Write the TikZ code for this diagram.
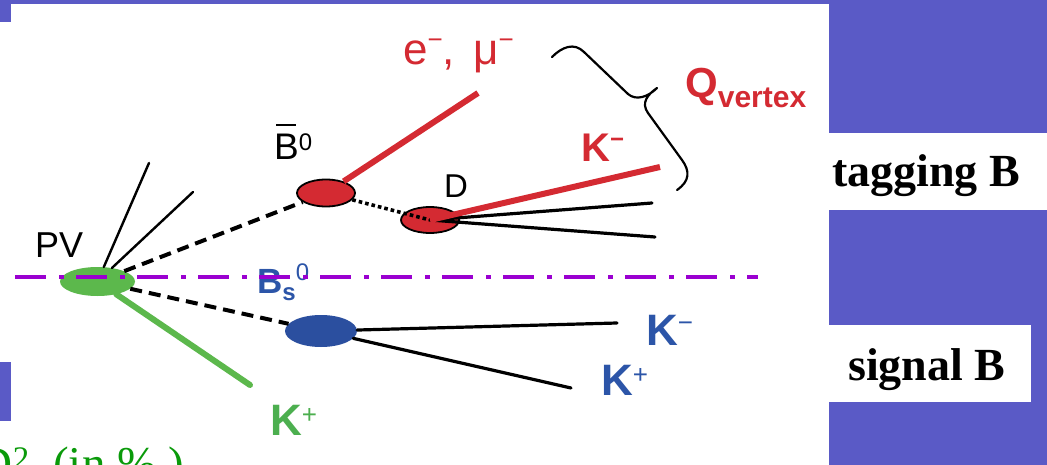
\documentclass[tikz,border=0pt]{standalone}
\usepackage{fontspec}
\setmainfont{Liberation Serif}
\setsansfont{Liberation Sans}
\usetikzlibrary{positioning,shapes,calc}

\definecolor{slideblue}{HTML}{5A5AC6}
\definecolor{tagred}{HTML}{D42A32}
\definecolor{pvgreen}{HTML}{5CB84C}
\definecolor{kgreen}{HTML}{4CAF4F}
\definecolor{bsblue}{HTML}{2B4F9F}
\definecolor{kblue}{HTML}{2C55A8}
\definecolor{cutpurple}{HTML}{9A00D0}
\definecolor{txtgreen}{HTML}{0A9A0A}

\begin{document}
\begin{tikzpicture}[x=1pt,y=-1pt,
    vtx/.style={ellipse,inner sep=0pt},
    lbl/.style={inner sep=0pt,anchor=base west,font=\sffamily},
    trk/.style={line width=3.2pt,line cap=round},
    fattrk/.style={line width=6pt,line cap=round},
    flight/.style={line width=4pt,dash pattern=on 12pt off 7pt}]
      \useasboundingbox (0,0) rectangle (1047,465);
      \clip (0,0) rectangle (1047,465);
      %
      % slide background and white panels
      \fill[slideblue] (0,0) rectangle (1047,465);
      \fill[white] (11,4) rectangle (829,465);
      \fill[white] (0,22) rectangle (11,362);
      \fill[white] (0,421) rectangle (11,465);
      \fill[white] (812,133) rectangle (1047,210);
      \fill[white] (829,325) rectangle (1031,402);
      %
      % vertices
      \node[vtx,fill=pvgreen,minimum width=75pt,minimum height=29pt] (pv) at (97.5,281.5) {};
      \node[vtx,fill=tagred,draw=black,line width=1.8pt,minimum width=58pt,minimum height=27pt] (bbar) at (326,193) {};
      \node[vtx,fill=tagred,draw=black,line width=1.8pt,minimum width=58pt,minimum height=26pt] (dvtx) at (430,220) {};
      \node[vtx,fill=bsblue,minimum width=72pt,minimum height=32pt] (bs) at (321,331) {};
      %
      \coordinate (pvtrk1) at (149,163);
      \coordinate (pvtrk2) at (193,192);
      \coordinate (emuend) at (478,93);
      \coordinate (kmtag) at (660,167);
      \coordinate (dtrk1) at (652,203);
      \coordinate (dtrk2) at (655,237);
      \coordinate (kmsig) at (617,323);
      \coordinate (kpsig) at (571,388);
      \coordinate (kpgreen) at (250,385);
      \coordinate (cut1) at (15,277);
      \coordinate (cut2) at (758,277);
      %
      % tracks
      \draw[trk,line width=2.4pt] (pv) -- (pvtrk1);
      \draw[trk,line width=2.4pt] (pv) -- (pvtrk2);
      \draw[fattrk,pvgreen] (pv) -- (kpgreen);
      \draw[flight] (pv) -- (bbar);
      \draw[flight] (pv) -- (bs);
      \draw[fattrk,tagred,line cap=butt] (bbar) -- (emuend);
      \draw[line width=3.6pt,dash pattern=on 3.6pt off 3pt] (bbar) -- (dvtx.center);
      \draw[trk] (dvtx.center) -- (dtrk1);
      \draw[trk] (dvtx.center) -- (dtrk2);
      \draw[fattrk,tagred,line cap=butt] (dvtx.center) -- (kmtag);
      \draw[trk] (bs) -- (kmsig);
      \draw[trk] (bs) -- (kpsig);
      %
      % brace round the tagging tracks
      \draw[line width=2.2pt,line cap=round,line join=round]
        (552,57) .. controls (562,47) and (574,42) .. (584,52) -- (628,94)
        .. controls (636,101) and (648,97) .. (657,88)
        .. controls (647,95) and (641,103) .. (648,113) -- (682,160)
        .. controls (690,171) and (690,181) .. (677,190);
      %
      % labels
      \node[lbl,font=\sffamily\fontsize{36}{36}\selectfont] (pvlbl) at (35,258) {PV};
      \node[lbl,font=\sffamily\fontsize{37}{37}\selectfont] (bbarlbl) at (274,160)
        {\rlap{\hspace{2pt}\raisebox{34pt}{\rule{20pt}{2.2pt}}}B\raisebox{9pt}{\fontsize{24}{24}\selectfont 0}};
      \node[lbl,font=\sffamily\fontsize{33}{33}\selectfont] (dlbl) at (444,198) {D};
      \node[lbl,text=tagred,font=\sffamily\fontsize{44}{44}\selectfont] (emulbl) at (403,65)
        {e\raisebox{16pt}{\fontsize{26}{26}\selectfont −}, \hspace{6pt}μ\raisebox{16pt}{\fontsize{26}{26}\selectfont −}};
      \node[lbl,text=tagred,font=\sffamily\bfseries\fontsize{40}{40}\selectfont] (kmtaglbl) at (581,162)
        {K\raisebox{14pt}{\fontsize{24}{24}\selectfont −}};
      \node[lbl,text=tagred,font=\sffamily\bfseries\fontsize{42}{42}\selectfont] (qlbl) at (685,98)
        {Q\raisebox{-10pt}{\fontsize{30}{30}\selectfont vertex}};
      \node[lbl,text=kblue,font=\sffamily\bfseries\fontsize{35}{35}\selectfont] (bslbl) at (257,293)
        {B\raisebox{-7pt}{\fontsize{24}{24}\selectfont s}\raisebox{13pt}{\fontsize{24}{24}\selectfont\mdseries 0}};
      \node[lbl,text=kblue,font=\sffamily\bfseries\fontsize{44}{44}\selectfont] (kmsiglbl) at (646,345)
        {K\raisebox{14pt}{\fontsize{26}{26}\selectfont\mdseries −}};
      \node[lbl,text=kblue,font=\sffamily\bfseries\fontsize{44}{44}\selectfont] (kpsiglbl) at (601,395)
        {K\raisebox{12pt}{\fontsize{26}{26}\selectfont\mdseries +}};
      \node[lbl,text=kgreen,font=\sffamily\bfseries\fontsize{44}{44}\selectfont] (kpgrnlbl) at (270,435)
        {K\raisebox{12pt}{\fontsize{26}{26}\selectfont\mdseries +}};
      %
      \node[lbl,font=\bfseries\fontsize{46}{46}\selectfont] (tagging) at (832,187) {tagging B};
      \node[lbl,font=\bfseries\fontsize{46}{46}\selectfont] (signal) at (848,380) {signal B};
      \node[inner sep=0pt,anchor=base east,text=txtgreen,font=\fontsize{47}{47}\selectfont] (effic) at (184,479)
        {εD\textsuperscript{2} \ (in \% )};
      %
      % cut line, drawn over everything
      \draw[cutpurple,line width=4pt,dash pattern=on 31pt off 13pt on 5pt off 12pt] (cut1) -- (cut2);
\end{tikzpicture}
\end{document}
